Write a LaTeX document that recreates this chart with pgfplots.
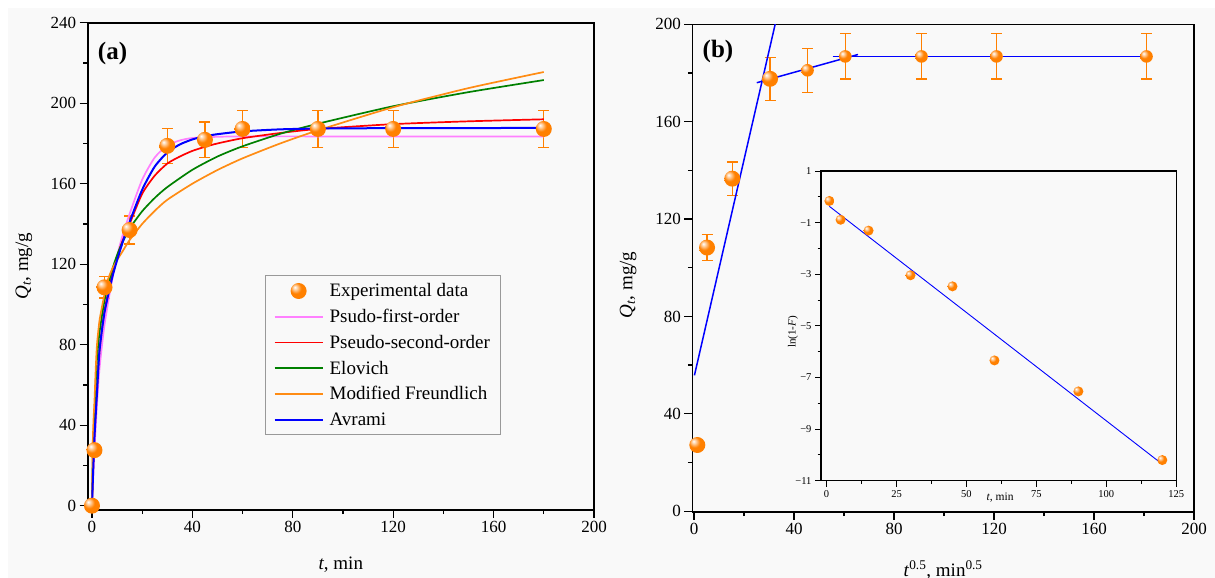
\documentclass[border=0pt]{standalone}
\usepackage{fontspec}
\setmainfont{Liberation Serif}
\usepackage{pgfplots}
\usepackage{pgfplotstable}
\pgfplotsset{compat=1.18}

\definecolor{ballor}{RGB}{255,128,0}
\definecolor{pinkc}{RGB}{255,128,255}
\definecolor{redc}{RGB}{255,0,0}
\definecolor{greenc}{RGB}{0,128,0}
\definecolor{orc}{RGB}{255,140,20}
\definecolor{bluec}{RGB}{0,0,255}
\definecolor{bgc}{RGB}{249,249,249}

\pgfdeclareradialshading{orangeball}{\pgfpoint{-12bp}{12bp}}{color(0bp)=(white); color(7bp)=(ballor!40!white); color(17bp)=(ballor); color(48bp)=(ballor); color(66bp)=(ballor!90!black)}
\pgfdeclareplotmark{oball}{\pgfpathcircle{\pgfpointorigin}{\pgfplotmarksize}\pgfshadepath{orangeball}{0}\pgfusepath{discard}}

\pgfplotstableread{
t q e
0 0 0
1 27.6 0
5 108.5 5.3
15 137 7
30 178.8 8.8
45 181.8 8.8
60 187.2 9.2
90 187.2 9.2
120 187.2 9.2
180 187.2 9.2
}\expa

\pgfplotstableread{
t q e
1.3 27.2 0
5.2 108.3 5.4
15.3 136.6 6.9
30.4 177.6 8.9
45.4 181.1 9.1
60.5 186.8 9.3
91 186.8 9.3
121 186.8 9.3
181 186.8 9.3
}\expb

\pgfplotstableread{
t q
0 0
0.5 14
1 28
2 50
3 68
5 90
8 112
10 124
12 133.5
15 145
20 162
25 173
30 179
35 181.5
40 182.7
50 183.3
60 183.5
90 183.5
120 183.5
180 183.5
}\pfo

\pgfplotstableread{
t q
0 0
0.5 19
1 36
2 58
3 77
5 97
8 114.5
10 123.5
12 131
15 140
20 155
25 164
30 170
35 173.5
40 176.3
45 178.3
50 180
60 182.6
75 185.2
90 187.2
120 189.6
150 191
180 192
}\pso

\pgfplotstableread{
t q
0 0
0.3 22
0.6 34
1 46
1.5 61
2 73
3 86
5 102
8 117
10 124.5
12 130.5
15 137.7
20 146.3
25 152.9
30 158.3
40 166.9
50 173.5
60 178.6
75 184.8
90 189.8
120 198.5
150 205.5
180 211.5
}\elov

\pgfplotstableread{
t q
0 0
0.3 30
0.6 42
1 52
1.5 68
2 80
3 92
4.5 102
6 111
8 117.5
10 122
12 126
15 132
20 140
25 146.5
30 152
40 160
50 166.8
60 172.6
75 180
90 186.5
120 198
150 207.5
180 215.5
}\mfr

\pgfplotstableread{
t q
0 0
0.5 18
1 34
2 56
3 77
5 96
8 113
10 122
12 130
15 141
20 157
25 168.5
30 175.5
35 179.5
40 182
45 183.6
50 184.6
60 186
75 187
90 187.4
120 187.6
180 187.7
}\avr

\pgfplotsset{
  mainax/.style={
    scale only axis,
    tick align=outside, tick pos=left,
    major tick length=8pt, minor tick length=4.5pt,
    tick style={line width=1.3pt, black},
    axis line style={line width=1.6pt},
    tick label style={font=\fontsize{17}{20}\selectfont},
    label style={font=\fontsize{19}{22}\selectfont},
    /pgf/number format/assume math mode=true,
    minor x tick num=1, minor y tick num=1,
    legend image code/.code={\draw[mark repeat=2,mark phase=2,##1] plot coordinates {(0pt,0pt) (24pt,0pt) (48pt,0pt)};},
  }
}

\begin{document}
\begin{tikzpicture}
\path[use as bounding box] (0,0) rectangle (1215pt,-578pt);
\fill[bgc] (8pt,-8pt) rectangle (1215pt,-578pt);

% ---------------- panel (a)
\begin{axis}[mainax,
  at={(87.7pt,-509.7pt)}, anchor=south west,
  width=506.3pt, height=487pt,
  xmin=-1.7, xmax=200, ymin=-2, ymax=240,
  xtick={0,40,...,200}, ytick={0,40,...,240},
  xlabel={\textit{t}, min},
  ylabel={\textit{Q}\textsubscript{\textit{t}}, mg/g},
  xlabel style={at={(axis description cs:0.5,0)}, anchor=base, yshift=-59.3pt},
  ylabel style={at={(axis description cs:-0.126,0.5)}, anchor=center},
  legend style={at={(0.351,0.481)}, anchor=north west, draw=gray!80, fill=none,
    font=\fontsize{19}{22}\selectfont, inner xsep=8pt, inner ysep=6pt, row sep=7pt,
    /tikz/every odd column/.append style={column sep=4pt}},
  legend cell align=left,
]
\addplot[forget plot, only marks, mark=none,
  error bars/.cd, y dir=both, y explicit,
  error bar style={color=ballor, line width=1.3pt},
  error mark options={rotate=90, mark size=5.5pt, color=ballor, line width=1.3pt}]
  table[x=t, y=q, y error=e] {\expa};
\addplot[only marks, mark=oball, mark size=8pt] table[x=t, y=q] {\expa};
\addlegendentry{Experimental data}
\addplot[pinkc, line width=1.7pt, smooth, tension=0.4] table[x=t, y=q] {\pfo};
\addlegendentry{Psudo-first-order}
\addplot[redc, line width=1.7pt, smooth, tension=0.4] table[x=t, y=q] {\pso};
\addlegendentry{Pseudo-second-order}
\addplot[greenc, line width=1.7pt, smooth, tension=0.4] table[x=t, y=q] {\elov};
\addlegendentry{Elovich}
\addplot[orc, line width=1.7pt, smooth, tension=0.4] table[x=t, y=q] {\mfr};
\addlegendentry{Modified Freundlich}
\addplot[bluec, line width=2pt, smooth, tension=0.4] table[x=t, y=q] {\avr};
\addlegendentry{Avrami}
\node[font=\bfseries\fontsize{25}{28}\selectfont] at (axis description cs:0.049,0.937) {(a)};
\end{axis}

% ---------------- panel (b)
\begin{axis}[mainax,
  at={(692.3pt,-511.7pt)}, anchor=south west,
  width=501.7pt, height=487.4pt,
  xmin=-0.7, xmax=200, ymin=-0.2, ymax=200,
  xtick={0,40,...,200}, ytick={0,40,...,200},
  xlabel={\textit{t}\textsuperscript{0.5}, min\textsuperscript{0.5}},
  ylabel={\textit{Q}\textsubscript{\textit{t}}, mg/g},
  xlabel style={at={(axis description cs:0.5,0)}, anchor=base, yshift=-64.3pt},
  ylabel style={at={(axis description cs:-0.128,0.465)}, anchor=center},
]
\addplot[forget plot, only marks, mark=none,
  error bars/.cd, y dir=both, y explicit,
  error bar style={color=ballor, line width=1.3pt},
  error mark options={rotate=90, mark size=5.5pt, color=ballor, line width=1.3pt}]
  table[x=t, y=q, y error=e] {\expb};
\addplot[only marks, mark=oball, mark size=8pt] coordinates {
(1.3,27.2) (5.2,108.3) (15.3,136.6) (30.4,177.6)};
\addplot[only marks, mark=oball, mark size=6.3pt] coordinates {
(45.4,181.1) (60.5,186.8) (91,186.8) (121,186.8) (181,186.8)};
\addplot[bluec, line width=1.5pt] coordinates {(0.15,55.8) (35,211.4)};
\addplot[bluec, line width=1.5pt] coordinates {(25.1,176) (65.6,187.6)};
\addplot[bluec, line width=1.5pt] coordinates {(55.4,186.7) (181,186.7)};
\node[font=\bfseries\fontsize{25}{28}\selectfont] at (axis description cs:0.0512,0.945) {(b)};
\end{axis}

% ---------------- inset
\begin{axis}[
  scale only axis,
  at={(821pt,-480.7pt)}, anchor=south west,
  width=355.3pt, height=309.7pt,
  xmin=-2, xmax=125, ymin=-11, ymax=1,
  xtick={0,25,...,125},
  ytick={-11,-9,-7,-5,-3,-1,1},
  yticklabels={−11,−9,−7,−5,−3,−1,1},
  minor x tick num=1, minor y tick num=1,
  tick align=outside, tick pos=left,
  major tick length=6pt, minor tick length=3.5pt,
  tick style={line width=0.9pt, black},
  axis line style={line width=1.1pt},
  tick label style={font=\fontsize{10.5}{12}\selectfont},
  /pgf/number format/assume math mode=true,
  xlabel={\textit{t}, min},
  ylabel={ln(1-\textit{F})},
  xlabel style={at={(axis description cs:0.504,0)}, anchor=center, yshift=-16.5pt, font=\fontsize{11.5}{13}\selectfont},
  ylabel style={at={(axis description cs:-0.079,0.48)}, anchor=center, font=\fontsize{11}{13}\selectfont},
]
\addplot[bluec, line width=0.9pt] coordinates {(1,-0.37) (120,-10.36)};
\addplot[only marks, mark=oball, mark size=5pt] coordinates {
(1,-0.16) (5,-0.89) (15,-1.31) (30,-3.04) (45,-3.47) (60,-6.34) (90,-7.54) (120,-10.2)};
\end{axis}
\end{tikzpicture}
\end{document}
